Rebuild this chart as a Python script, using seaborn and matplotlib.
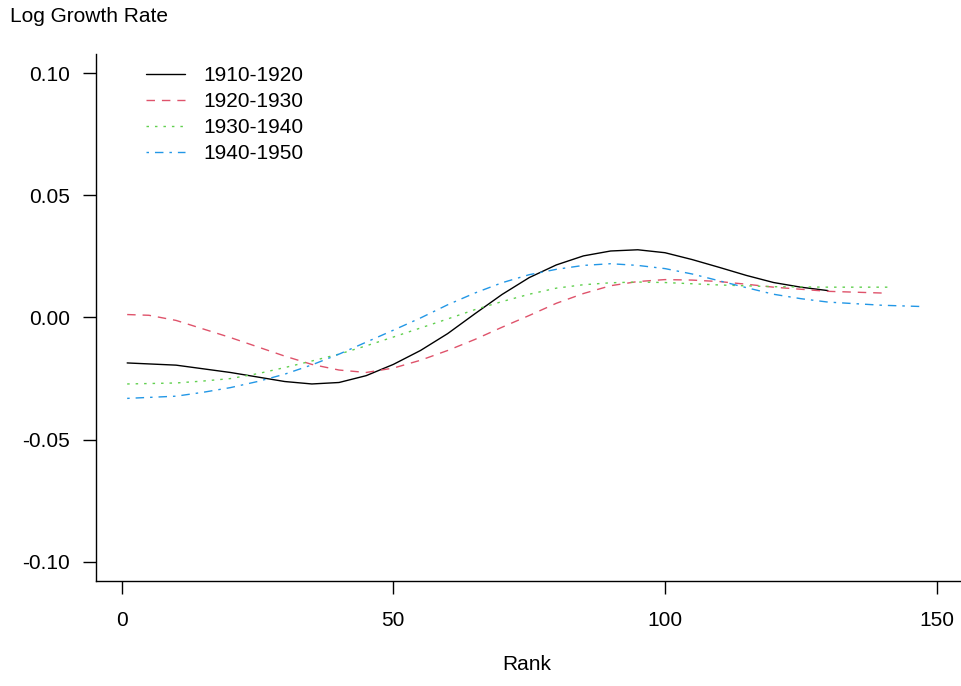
import pandas as pd
import matplotlib
matplotlib.use("Agg")
import matplotlib.pyplot as plt
import seaborn as sns

# Smoothed log growth rate by city rank
periods = ["1910-1920", "1920-1930", "1930-1940", "1940-1950"]

rank_1910 = [1, 10, 20, 30, 35, 40, 45, 50, 55, 60, 65, 70, 75, 80, 85, 90, 95,
             100, 105, 110, 115, 120, 125, 130]
rate_1910 = [-0.0186, -0.0195, -0.0225, -0.0262, -0.0272, -0.0266, -0.0238, -0.0192,
             -0.0135, -0.0066, 0.0015, 0.0094, 0.0163, 0.0215, 0.0252, 0.0272, 0.0277,
             0.0265, 0.0237, 0.0205, 0.0172, 0.0143, 0.0124, 0.0110]

rank_1920 = [1, 5, 10, 20, 30, 35, 40, 45, 50, 55, 60, 65, 70, 75, 80, 85, 90, 95,
             100, 105, 110, 115, 120, 130, 140]
rate_1920 = [0.0012, 0.0009, -0.0012, -0.0082, -0.0158, -0.0192, -0.0215, -0.0225,
             -0.0207, -0.0175, -0.0135, -0.0090, -0.0040, 0.0008, 0.0058, 0.0098,
             0.0130, 0.0147, 0.0155, 0.0153, 0.0147, 0.0136, 0.0124, 0.0107, 0.0100]

rank_1930 = [1, 10, 15, 20, 25, 30, 35, 40, 45, 50, 55, 60, 65, 70, 75, 80, 85, 90,
             95, 100, 110, 120, 130, 141]
rate_1930 = [-0.0272, -0.0268, -0.0260, -0.0250, -0.0230, -0.0205, -0.0178, -0.0150,
             -0.0116, -0.0080, -0.0043, -0.0006, 0.0032, 0.0065, 0.0095, 0.0120,
             0.0134, 0.0142, 0.0145, 0.0143, 0.0133, 0.0126, 0.0124, 0.0124]

rank_1940 = [1, 10, 15, 20, 25, 30, 35, 40, 45, 50, 55, 60, 65, 70, 75, 80, 85, 90,
             95, 100, 105, 110, 115, 120, 125, 130, 140, 147]
rate_1940 = [-0.0331, -0.0322, -0.0306, -0.0287, -0.0262, -0.0232, -0.0194, -0.0150,
             -0.0101, -0.0052, -0.0002, 0.0052, 0.0100, 0.0142, 0.0175, 0.0197,
             0.0213, 0.0220, 0.0213, 0.0200, 0.0178, 0.0150, 0.0122, 0.0095, 0.0077,
             0.0063, 0.0050, 0.0045]

x_ticks = [0, 50, 100, 150]
y_ticks = [0.10, 0.05, 0.00, -0.05, -0.10]
y_tick_labels = ["0.10", "0.05", "0.00", "-0.05", "-0.10"]

colors = ["black", "#DF536B", "#61D04F", "#2297E6"]

# Build a long table for seaborn
frames = []
for period, ranks, rates in zip(periods,
                                [rank_1910, rank_1920, rank_1930, rank_1940],
                                [rate_1910, rate_1920, rate_1930, rate_1940]):
    frames.append(pd.DataFrame({"Rank": ranks, "Rate": rates, "Period": period}))
df = pd.concat(frames, ignore_index=True)

sns.set_style("ticks")
plt.rcParams["font.family"] = ["Liberation Sans", "DejaVu Sans"]
plt.rcParams["text.color"] = "black"

fig = plt.figure(figsize=(9.61, 6.86), dpi=100)
ax = fig.add_axes([0.0996, 0.1531, 1.0 - 0.0996, 0.9213 - 0.1531])

line_styles = {
    "1910-1920": "",
    "1920-1930": (6.1, 5.0),
    "1930-1940": (1.8, 4.3),
    "1940-1950": (1.8, 4.3, 6.1, 4.3),
}
sns.lineplot(data=df, x="Rank", y="Rate", hue="Period", style="Period",
             hue_order=periods, style_order=periods,
             palette=dict(zip(periods, colors)), dashes=line_styles,
             linewidth=1.0, legend=False, ax=ax)

ax.set_xlim(-4.79, 154.5)
ax.set_ylim(-0.1078, 0.1078)

# R-like L-shaped box
for side in ["top", "right"]:
    ax.spines[side].set_visible(False)
for side in ["left", "bottom"]:
    ax.spines[side].set_color("black")
    ax.spines[side].set_linewidth(1.0)

ax.set_xticks(x_ticks)
ax.set_xticklabels([str(t) for t in x_ticks])
ax.set_yticks(y_ticks)
ax.set_yticklabels(y_tick_labels)
ax.tick_params(axis="both", direction="out", length=9.4, width=1.0,
               color="black", labelsize=15, labelcolor="black",
               bottom=True, left=True)
ax.tick_params(axis="x", pad=12)
ax.tick_params(axis="y", pad=9)
ax.set_xlabel("")
ax.set_ylabel("")

leg = ax.legend(ax.get_lines(), periods, loc="upper left",
                bbox_to_anchor=(0.058, 0.9765), frameon=False, fontsize=15,
                borderpad=0, borderaxespad=0, handlelength=1.87,
                handletextpad=0.9, labelspacing=0.33)
for txt in leg.get_texts():
    txt.set_color("black")

fig.text(10 / 961, 1 - 17 / 686, "Log Growth Rate", fontsize=15,
         ha="left", va="center", color="black")
fig.text(527 / 961, 1 - 665 / 686, "Rank", fontsize=15,
         ha="center", va="center", color="black")

fig.savefig("out.png", dpi=100)
